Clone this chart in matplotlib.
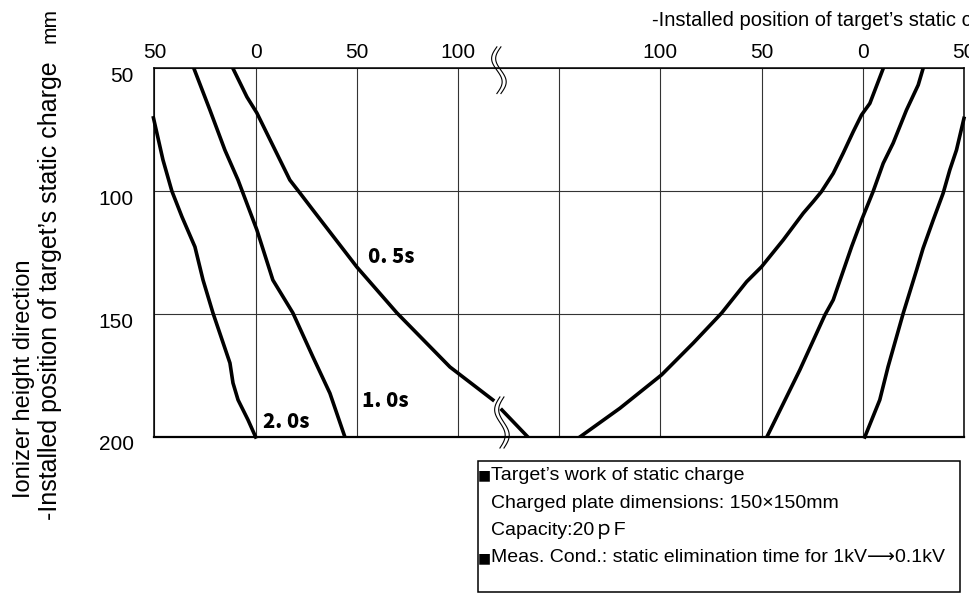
import numpy as np
import matplotlib.pyplot as plt
import matplotlib.transforms as mtransforms
from matplotlib.patches import Rectangle

plt.rcParams['font.family'] = ['Liberation Sans', 'DejaVu Sans', 'Noto Sans CJK JP']

# x position: left part in mm as read, right part stored as mm on the right scale
# (right scale value r is drawn at 300 - r on the shared axis)
left_05_x = [-11.2, -4.3, 0.6, 16.9, 21.9, 28.3, 50.0, 69.8, 96.0, 117.2]
left_05_y = [50, 61.6, 68.1, 95.4, 100.7, 107.6, 130.8, 149.5, 171.5, 184.9]
left_05b_x = [121.7, 134.5]
left_05b_y = [189.0, 200]

left_10_x = [-30.5, -22.6, -15.2, -8.7, 0.6, 8.5, 18.4, 28.3, 36.7, 44.1]
left_10_y = [50, 66.9, 83.2, 95.4, 115.7, 136.1, 149.5, 167.4, 182.2, 200]

left_20_x = [-50.5, -45.8, -41.4, -36.4, -30.0, -26.0, -21.1, -12.7, -11.2, -8.7, -3.8, 0.0]
left_20_y = [70.1, 87.2, 99.9, 110.4, 122.6, 136.1, 149.5, 169.9, 178.0, 184.9, 193.0, 200]

right_05_r = [-10.1, -3.5, 0.6, 4.7, 9.7, 14.6, 20.4, 24.5, 29.4, 39.3, 50.0, 57.4, 69.8, 83.8, 99.4, 120.0, 139.8]
right_05_y = [50, 64.2, 68.9, 75.7, 84.5, 92.7, 100.1, 104.2, 108.9, 119.8, 130.7, 136.8, 149.6, 161.8, 174.7, 188.3, 200]

right_10_r = [-29.8, -27.4, -21.6, -15.0, -10.1, -5.1, 0.6, 5.5, 14.6, 18.7, 31.1, 47.4]
right_10_y = [50, 56.7, 66.9, 80.4, 88.6, 100.1, 111.7, 122.5, 144.2, 150.3, 172.7, 200]

right_20_r = [-50.0, -46.3, -43.0, -39.7, -34.8, -29.8, -26.6, -20.0, -12.5, -8.4, -1.0]
right_20_y = [70.3, 83.2, 91.3, 100.8, 111.7, 123.2, 132.0, 149.6, 171.4, 184.9, 200]

xtick_pos = [-50, 0, 50, 100, 150, 200, 250, 300, 350]
xtick_labels = ['50', '0', '50', '100', '', '100', '50', '0', '50']
ytick_pos = [50, 100, 150, 200]
ytick_labels = ['50', '100', '150', '200']

curve_labels = ['0. 5s', '1. 0s', '2. 0s']
curve_label_x = [55.5, 52.5, 3.6]
curve_label_y = [126.7, 185.3, 193.9]

note_lines = ["Target\u2019s work of static charge",
              "Charged plate dimensions: 150\u00d7150mm",
              "Capacity:20\uff50F",
              "Meas. Cond.: static elimination time for 1kV\u27f60.1kV"]
note_marks = [True, False, False, True]


def right_pos(r):
    return 300 - np.array(r)


fig = plt.figure(figsize=(9.69, 5.96), dpi=100)
ax = fig.add_axes([0.1594, 0.2668, 0.8354, 0.6183])

lw = 2.6
ax.plot(left_05_x, left_05_y, color='black', lw=lw)
ax.plot(left_05b_x, left_05b_y, color='black', lw=lw)
ax.plot(left_10_x, left_10_y, color='black', lw=lw)
ax.plot(left_20_x, left_20_y, color='black', lw=lw, clip_on=False)
ax.plot(right_pos(right_05_r), right_05_y, color='black', lw=lw)
ax.plot(right_pos(right_10_r), right_10_y, color='black', lw=lw)
ax.plot(right_pos(right_20_r), right_20_y, color='black', lw=lw, clip_on=False)

for txt, x, y in zip(curve_labels, curve_label_x, curve_label_y):
    ax.text(x, y, txt, fontsize=14.5, fontweight='heavy', family=['Noto Sans CJK JP'],
            ha='left', va='center')

ax.set_xlim(-50, 350)
ax.set_ylim(200, 50)
ax.set_xticks(xtick_pos)
ax.set_xticklabels(xtick_labels)
ax.set_yticks(ytick_pos)
ax.set_yticklabels(ytick_labels)
ax.xaxis.tick_top()
ax.tick_params(axis='x', length=0, pad=5, labelsize=15)
ax.tick_params(axis='y', length=0, pad=15, labelsize=15)
offset = mtransforms.ScaledTranslation(0, -0.06, fig.dpi_scale_trans)
for lab in ax.get_yticklabels():
    lab.set_transform(lab.get_transform() + offset)

ax.grid(True, color='#333333', lw=0.8)
for s in ax.spines.values():
    s.set_linewidth(1.1)
ax.spines['bottom'].set_linewidth(1.6)

# break marks
t = np.linspace(0, 1, 60)
for xc in [119.2, 121.2]:
    ax.plot(xc - 2.6 * np.sin(2 * np.pi * t), 41.2 + t * 19, color='black', lw=0.8, clip_on=False)
for xc in [120.7, 122.7]:
    ax.plot(xc - 2.6 * np.sin(2 * np.pi * t), 183.7 + t * 20.8, color='black', lw=0.8, clip_on=False)

# axis titles
fig.text(0.0248, 0.1644, 'Ionizer height direction', rotation=90, fontsize=17,
         ha='center', va='bottom')
fig.text(0.0516, 0.1275, '-Installed position of target\u2019s static charge', rotation=90,
         fontsize=18, ha='center', va='bottom')
fig.text(0.0516, 0.9866, 'mm', rotation=90, fontsize=15, ha='center', va='top')
fig.text(0.673, 0.9648, '-Installed position of target\u2019s static charge   mm', fontsize=14.5,
         ha='left', va='center')

# note box
fig.patches.append(Rectangle((0.4933, 0.0072), 0.4974, 0.2198, transform=fig.transFigure,
                             fill=False, edgecolor='black', lw=1.1))
line_y = [0.2030, 0.1560, 0.1107, 0.0638]
for txt, mark, y in zip(note_lines, note_marks, line_y):
    if mark:
        fig.text(0.4995, y, '\u25a0', fontsize=10, ha='center', va='center', family=['DejaVu Sans'])
    fig.text(0.5067, y, txt, fontsize=14, ha='left', va='center')

fig.savefig('out.png', dpi=100)
